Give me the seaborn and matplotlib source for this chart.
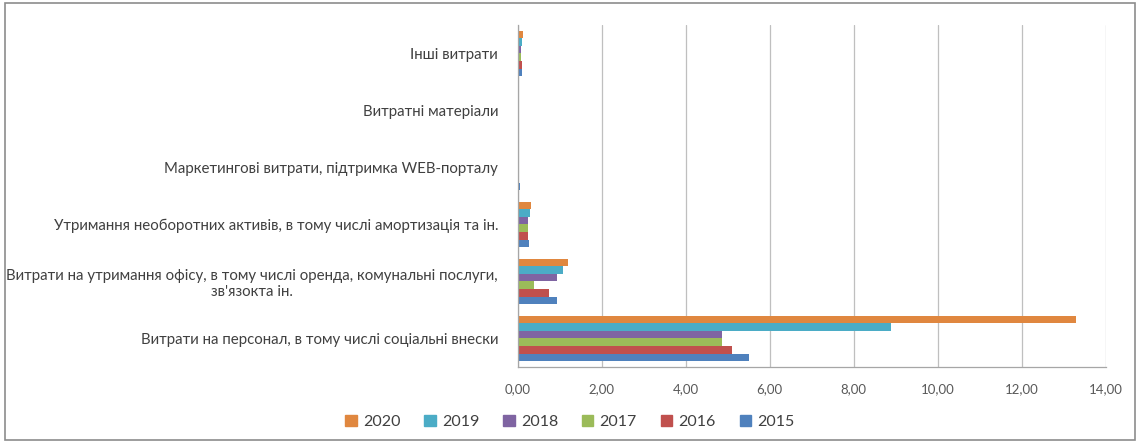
import matplotlib
matplotlib.use("Agg")
import matplotlib.pyplot as plt
from matplotlib.ticker import FuncFormatter, FixedLocator
from matplotlib.patches import Rectangle
import seaborn as sns
import pandas as pd

categories = [
    "Інші витрати",
    "Витратні матеріали",
    "Маркетингові витрати, підтримка WEB-порталу",
    "Утримання необоротних активів, в тому числі амортизація та ін.",
    "Витрати на утримання офісу, в тому числі оренда, комунальні послуги,\nзв'язокта ін.",
    "Витрати на персонал, в тому числі соціальні внески",
]
years = ["2020", "2019", "2018", "2017", "2016", "2015"]

v2020 = [0.12, 0.03, 0.00, 0.31, 1.19, 13.30]
v2019 = [0.10, 0.02, 0.03, 0.29, 1.07, 8.88]
v2018 = [0.09, 0.03, 0.04, 0.26, 0.95, 4.87]
v2017 = [0.08, 0.02, 0.02, 0.25, 0.38, 4.87]
v2016 = [0.11, 0.04, 0.00, 0.26, 0.76, 5.10]
v2015 = [0.10, 0.03, 0.06, 0.27, 0.95, 5.52]

colors = ["#E0873F", "#4BACC6", "#7F64A2", "#9BBB59", "#C0504D", "#4F81BD"]

series = dict(zip(years, [v2020, v2019, v2018, v2017, v2016, v2015]))
rows = []
for yr, vals in series.items():
    for cat, v in zip(categories, vals):
        rows.append({"category": cat, "year": yr, "value": v})
df = pd.DataFrame(rows)

sns.set_theme(style="white")
plt.rcParams["font.family"] = ["Lato", "DejaVu Sans"]

fig = plt.figure(figsize=(11.4, 4.43), dpi=100)
ax = fig.add_axes([0.454, 0.172, 0.516, 0.772])

sns.barplot(data=df, y="category", x="value", hue="year", order=categories,
            hue_order=years, palette=colors, orient="h", width=0.8,
            saturation=1, linewidth=0, edgecolor="none", ax=ax, legend=False)

ax.set_xlim(0, 14)
ax.xaxis.set_major_locator(FixedLocator(range(0, 15, 2)))
ax.xaxis.set_major_formatter(FuncFormatter(lambda x, p: f"{x:.2f}".replace(".", ",")))
ax.grid(axis="x", color="#BFBFBF", linewidth=0.9)
ax.set_axisbelow(True)
ax.set_xlabel("")
ax.set_ylabel("")

for side in ["top", "right"]:
    ax.spines[side].set_visible(False)
for side in ["left", "bottom"]:
    ax.spines[side].set_color("#A6A6A6")
    ax.spines[side].set_linewidth(0.9)

ax.tick_params(axis="x", colors="#A6A6A6", length=4, width=0.9, direction="out",
               labelcolor="#595959", labelsize=9.5, pad=8)
ax.tick_params(axis="y", length=0, labelcolor="#404040", labelsize=10.8, pad=14)
for lbl in ax.get_yticklabels():
    lbl.set_horizontalalignment("right")
    lbl.set_multialignment("center")

# group separator ticks on the category axis
ax.set_yticks([i - 0.5 for i in range(len(categories) + 1)], minor=True)
ax.tick_params(axis="y", which="minor", length=4, width=0.9, color="#A6A6A6", direction="out")

handles = [Rectangle((0, 0), 1, 1, color=c) for c in colors]
fig.legend(handles, years, loc="center", bbox_to_anchor=(0.5, 0.048), ncol=6,
           frameon=False, fontsize=11.5, handlelength=0.7, handleheight=0.7,
           handletextpad=0.4, columnspacing=1.5, labelcolor="#404040")

fig.patches.append(Rectangle((0.004, 0.006), 0.992, 0.988, transform=fig.transFigure,
                             fill=False, edgecolor="#8C8C8C", linewidth=1.2))

fig.savefig("out.png", dpi=100, facecolor="white")
